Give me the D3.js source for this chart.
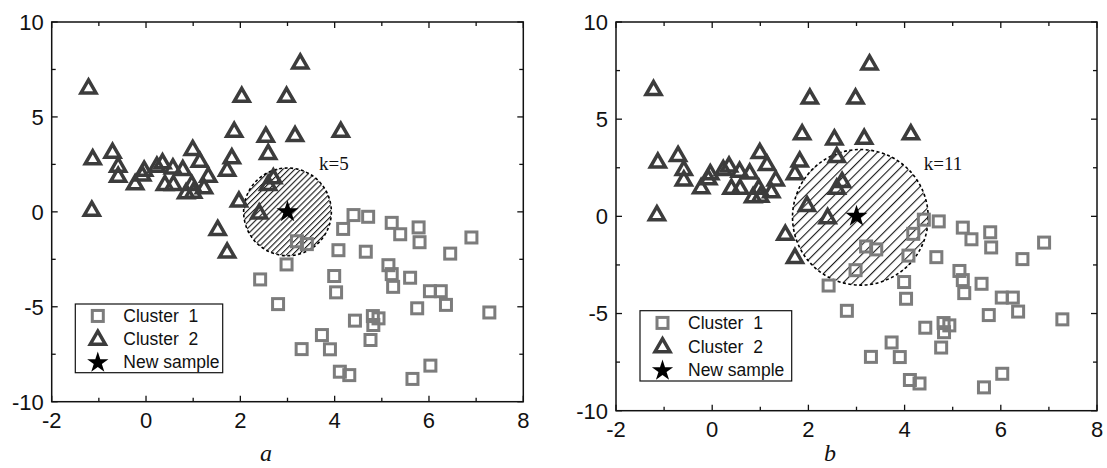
<!DOCTYPE html>
<html>
<head>
<meta charset="utf-8">
<script src="https://cdn.jsdelivr.net/npm/d3@7"></script>
<style>
  body { margin: 0; background: #fff; }
  svg { display: block; }
  text { font-family: "Liberation Sans", Arial, sans-serif; }
</style>
</head>
<body>
<script>
// cluster 1 (squares)
var cluster1X = [4.18, 4.4, 4.71, 5.21, 5.39, 5.78, 5.8, 6.9, 3.2, 3.41, 4.08, 4.66, 6.45,
  2.98, 2.42, 5.14, 5.21, 5.6, 5.24, 3.99, 4.03, 6.02, 6.25, 6.36, 2.8, 5.75, 7.28,
  4.43, 4.81, 4.93, 4.82, 4.76, 3.73, 3.3, 3.9, 4.11, 4.31, 5.65, 6.03];
var cluster1Y = [-0.9, -0.17, -0.26, -0.58, -1.18, -0.82, -1.6, -1.35, -1.55, -1.7, -2.02, -2.1, -2.2,
  -2.77, -3.56, -2.81, -3.28, -3.47, -3.95, -3.38, -4.24, -4.18, -4.18, -4.9, -4.86, -5.08, -5.3,
  -5.73, -5.49, -5.61, -5.96, -6.75, -6.49, -7.23, -7.24, -8.42, -8.6, -8.8, -8.1];

// cluster 2 (triangles)
var cluster2X = [-1.22, -1.13, -1.15, -0.71, -0.59, -0.59, -0.23, -0.04, -0.08, 0.23, 0.35, 0.57,
  0.40, 0.58, 0.78, 0.85, 0.97, 0.99, 1.14, 1.0, 1.23, 1.32, 1.72, 1.82, 1.87, 2.03, 1.97,
  2.4, 1.52, 1.72, 2.54, 2.59, 2.70, 2.59, 3.27, 2.98, 3.16, 4.13];
var cluster2Y = [6.49, 2.76, 0.05, 3.1, 2.37, 1.84, 1.44, 2.16, 1.9, 2.37, 2.55, 2.28,
  1.41, 1.41, 2.19, 0.97, 1.41, 3.25, 2.63, 1.0, 1.23, 1.84, 2.16, 2.81, 4.21, 6.05, 0.53,
  -0.1, -0.96, -2.15, 3.95, 3.04, 1.76, 1.41, 7.81, 6.05, 3.98, 4.21];

var newSample = [3.0, 0.0];

var xTicks = [-2, 0, 2, 4, 6, 8];
var xMinor = [-1, 1, 3, 5, 7];
var yTicks = [-10, -5, 0, 5, 10];
var yMinor = [-7.5, -2.5, 2.5, 7.5];

var legendLabels = ["Cluster  1", "Cluster  2", "New sample"];

// neighbourhood for each panel
var kLabels = ["k=5", "k=11"];
var kRadius = [0.93, 1.41];            // in x units
var kCenterX = [3.0, 3.08];
var kCenterY = [0.0, -0.05];
var kLabelX = [3.67, 4.4];
var kLabelY = [2.2, 2.37];
var panelLetters = ["a", "b"];

var width = 1107, height = 468;

var panels = [
  { left: 51.7, right: 523.3, top: 22, bottom: 401.7, hatch: 4.2,
    legend: { x: 75.3, y: 304, w: 147.4, h: 68.7 }, letter: { x: 266, y: 461 } },
  { left: 616, right: 1097, top: 22, bottom: 410.7, hatch: 6.8,
    legend: { x: 640, y: 310.7, w: 151.7, h: 70.3 }, letter: { x: 830, y: 461 } }
];

var squareColor = "#7c7c7c", triColor = "#3c3c3c";

var svg = d3.select("body").append("svg")
    .attr("width", width)
    .attr("height", height);

var defs = svg.append("defs");

var triPath = function(w, h) {
  return "M0," + (-h * 2 / 3) + "L" + (w / 2) + "," + (h / 3) + "L" + (-w / 2) + "," + (h / 3) + "Z";
};

var star = function(size) {
  return d3.symbol().type(d3.symbolStar).size(size)();
};

panels.forEach(function(p, i) {
  var x = d3.scaleLinear().domain([-2, 8]).range([p.left, p.right]);
  var y = d3.scaleLinear().domain([-10, 10]).range([p.bottom, p.top]);
  var g = svg.append("g");

  // hatch pattern
  var pat = defs.append("pattern")
      .attr("id", "hatch" + i)
      .attr("patternUnits", "userSpaceOnUse")
      .attr("width", p.hatch)
      .attr("height", p.hatch)
      .attr("patternTransform", "rotate(45)");
  pat.append("line")
      .attr("x1", 0.6).attr("y1", 0)
      .attr("x2", 0.6).attr("y2", p.hatch)
      .attr("stroke", "#000")
      .attr("stroke-width", 1);

  // neighbourhood circle
  g.append("circle")
      .attr("cx", x(kCenterX[i]))
      .attr("cy", y(kCenterY[i]))
      .attr("r", x(kRadius[i]) - x(0))
      .attr("fill", "url(#hatch" + i + ")")
      .attr("stroke", "#000")
      .attr("stroke-width", 1.6)
      .attr("stroke-dasharray", "3,2.5");

  g.append("text")
      .attr("x", x(kLabelX[i]))
      .attr("y", y(kLabelY[i]))
      .style("font-family", "'Liberation Serif', 'Times New Roman', serif")
      .style("font-size", "19px")
      .attr("fill", "#111")
      .text(kLabels[i]);

  // squares
  g.selectAll(".sq")
      .data(d3.range(cluster1X.length))
    .enter().append("rect")
      .attr("class", "sq")
      .attr("x", function(d) { return x(cluster1X[d]) - 5.5; })
      .attr("y", function(d) { return y(cluster1Y[d]) - 5.5; })
      .attr("width", 11)
      .attr("height", 11)
      .attr("fill", "none")
      .attr("stroke", squareColor)
      .attr("stroke-width", 3);

  // triangles
  g.selectAll(".tri")
      .data(d3.range(cluster2X.length))
    .enter().append("path")
      .attr("class", "tri")
      .attr("d", triPath(15, 13))
      .attr("transform", function(d) { return "translate(" + x(cluster2X[d]) + "," + y(cluster2Y[d]) + ")"; })
      .attr("fill", "none")
      .attr("stroke", triColor)
      .attr("stroke-width", 3.5)
      .attr("stroke-linejoin", "miter");

  // new sample
  g.append("path")
      .attr("d", star(150))
      .attr("transform", "translate(" + x(newSample[0]) + "," + y(newSample[1]) + ")")
      .attr("fill", "#000");

  // frame
  g.append("rect")
      .attr("x", p.left).attr("y", p.top)
      .attr("width", p.right - p.left).attr("height", p.bottom - p.top)
      .attr("fill", "none")
      .attr("stroke", "#111")
      .attr("stroke-width", 1.5);

  // ticks, all pointing inward
  var tickLines = g.append("g").attr("stroke", "#111").attr("stroke-width", 1.3);
  var addX = function(vals, len) {
    vals.forEach(function(v) {
      tickLines.append("line").attr("x1", x(v)).attr("x2", x(v)).attr("y1", p.bottom).attr("y2", p.bottom - len);
      tickLines.append("line").attr("x1", x(v)).attr("x2", x(v)).attr("y1", p.top).attr("y2", p.top + len);
    });
  };
  var addY = function(vals, len) {
    vals.forEach(function(v) {
      tickLines.append("line").attr("y1", y(v)).attr("y2", y(v)).attr("x1", p.left).attr("x2", p.left + len);
      tickLines.append("line").attr("y1", y(v)).attr("y2", y(v)).attr("x1", p.right).attr("x2", p.right - len);
    });
  };
  addX(xTicks, 6); addX(xMinor, 4);
  addY(yTicks, 6); addY(yMinor, 4);

  g.selectAll(".xl")
      .data(xTicks)
    .enter().append("text")
      .attr("x", function(d) { return x(d); })
      .attr("y", p.bottom + 26.6)
      .attr("text-anchor", "middle")
      .style("font-size", "22px")
      .attr("fill", "#111")
      .text(function(d) { return d; });

  g.selectAll(".yl")
      .data(yTicks)
    .enter().append("text")
      .attr("x", p.left - 8)
      .attr("y", function(d) { return y(d); })
      .attr("dy", "0.36em")
      .attr("text-anchor", "end")
      .style("font-size", "22px")
      .attr("fill", "#111")
      .text(function(d) { return d; });

  // legend
  var L = p.legend;
  var lg = g.append("g");
  lg.append("rect")
      .attr("x", L.x).attr("y", L.y)
      .attr("width", L.w).attr("height", L.h)
      .attr("fill", "#fff")
      .attr("stroke", "#111")
      .attr("stroke-width", 1.2);
  var rowH = L.h / 3;
  legendLabels.forEach(function(lab, j) {
    var cy = L.y + rowH * (j + 0.5) + 0.5;
    var mx = L.x + 22.5;
    if (j === 0) {
      lg.append("rect").attr("x", mx - 5.5).attr("y", cy - 5.5).attr("width", 11).attr("height", 11)
          .attr("fill", "none").attr("stroke", squareColor).attr("stroke-width", 3);
    } else if (j === 1) {
      lg.append("path").attr("d", triPath(15, 13)).attr("transform", "translate(" + mx + "," + (cy + 1) + ")")
          .attr("fill", "none").attr("stroke", triColor).attr("stroke-width", 3.5);
    } else {
      lg.append("path").attr("d", star(140)).attr("transform", "translate(" + mx + "," + (cy + 1) + ")")
          .attr("fill", "#000");
    }
    lg.append("text")
        .attr("x", L.x + 48)
        .attr("y", cy)
        .attr("dy", "0.36em")
        .style("font-size", "17.5px")
        .style("white-space", "pre")
        .attr("fill", "#111")
        .text(lab);
  });

  g.append("text")
      .attr("x", p.letter.x)
      .attr("y", p.letter.y)
      .attr("text-anchor", "middle")
      .style("font-family", "'Liberation Serif', 'Times New Roman', serif")
      .style("font-style", "italic")
      .style("font-size", "24px")
      .attr("fill", "#111")
      .text(panelLetters[i]);
});
</script>
</body>
</html>
